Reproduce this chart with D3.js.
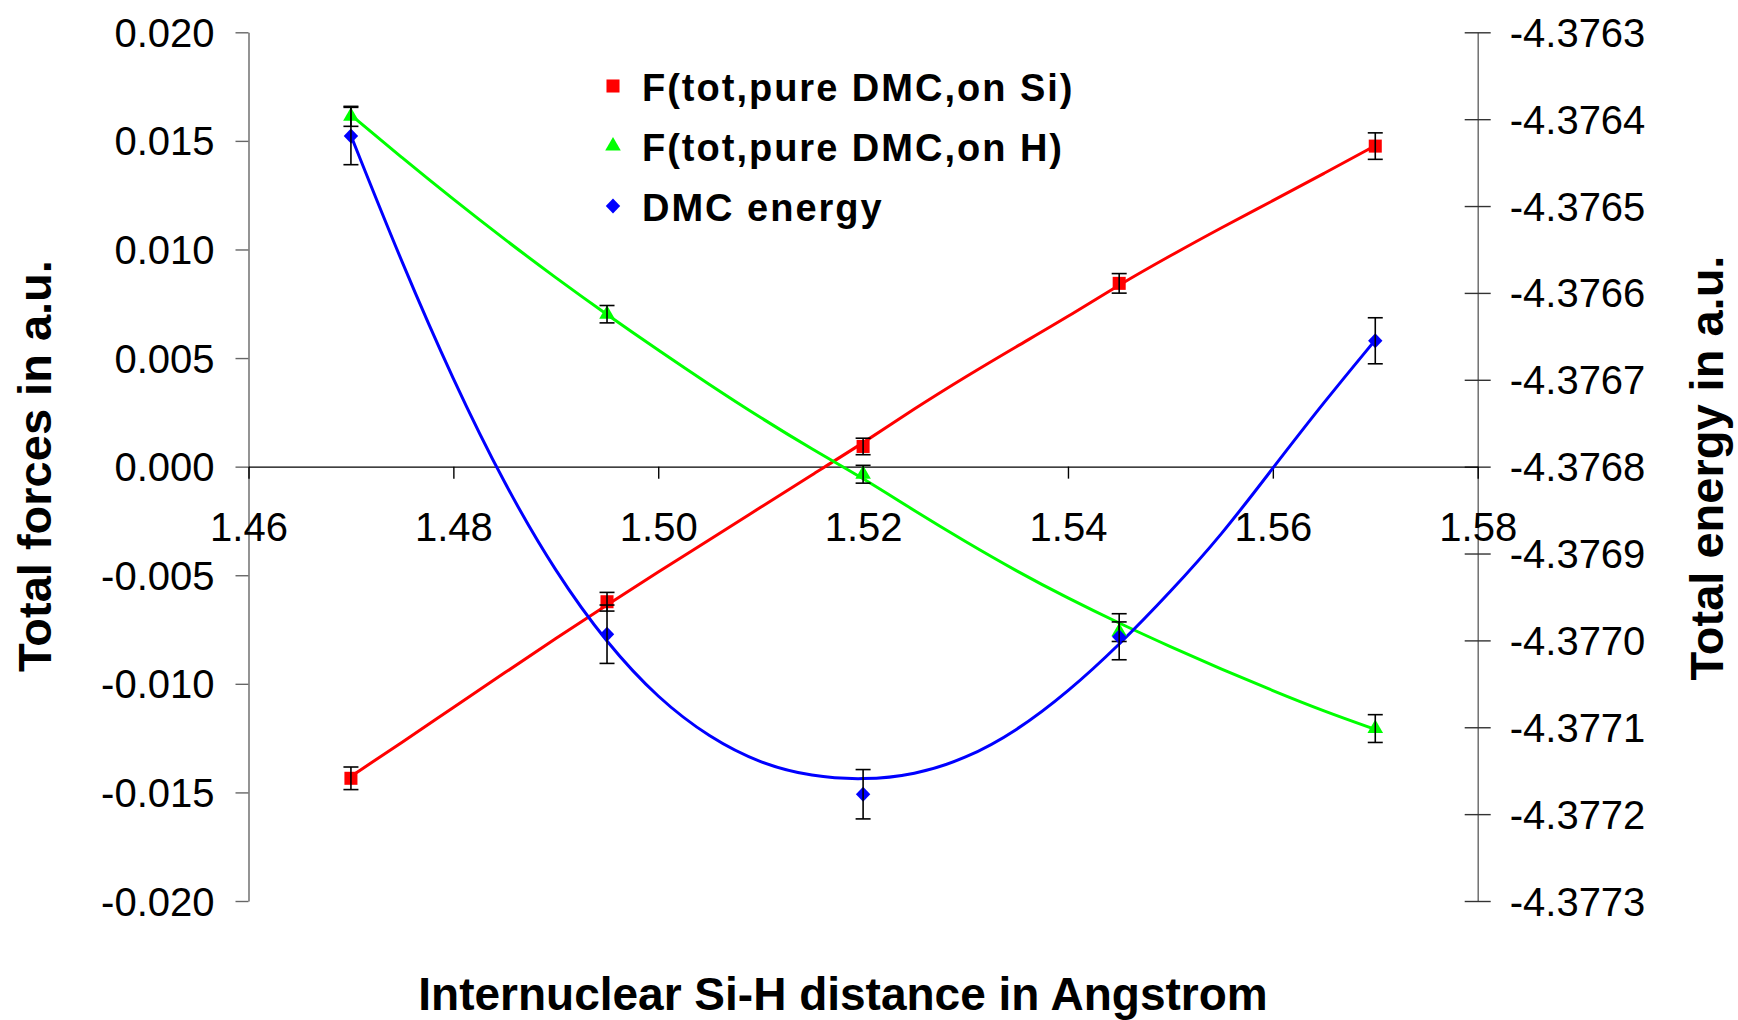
<!DOCTYPE html>
<html>
<head>
<meta charset="utf-8">
<script src="https://cdn.jsdelivr.net/npm/d3@7"></script>
<style>
  html, body { margin: 0; padding: 0; background: #fff; }
  svg { display: block; font-family: "Liberation Sans", Arial, Helvetica, sans-serif; }
</style>
</head>
<body>
<svg id="chart" width="1738" height="1020"></svg>
<script>
// ---------- data ----------
const distances = [1.47, 1.495, 1.52, 1.545, 1.57];

const forceSi    = [-0.01435, -0.00622, 0.00093, 0.00844, 0.01476];
const forceSiErr = [0.00052, 0.00043, 0.00038, 0.00045, 0.00061];

const forceH     = [0.01613, 0.00702, -0.00035, -0.0076, -0.01206];
const forceHErr  = [0.00046, 0.00040, 0.00041, 0.00045, 0.00064];

const energy     = [-4.3764194, -4.3769929, -4.3771771, -4.3769958, -4.3766551];
const energyErr  = [0.000033, 0.0000336, 0.0000284, 0.0000265, 0.0000265];

// smoothed trend curves
const fitX  = [1.470, 1.475, 1.480, 1.485, 1.490, 1.495, 1.500, 1.505, 1.510, 1.515, 1.520,
               1.525, 1.530, 1.535, 1.540, 1.545, 1.550, 1.555, 1.560, 1.565, 1.570];
const fitSi = [-0.014259, -0.012693, -0.011082, -0.009494, -0.007914, -0.006358, -0.004843,
               -0.003366, -0.001869, -0.000378, 0.001087, 0.002670, 0.004139, 0.005539,
               0.006906, 0.008379, 0.009715, 0.011013, 0.012242, 0.013504, 0.014783];
const fitH  = [0.016197, 0.014217, 0.012307, 0.010465, 0.008692, 0.006998, 0.005364,
               0.003775, 0.002247, 0.000806, -0.000534, -0.002030, -0.003458, -0.004816,
               -0.006059, -0.007210, -0.008292, -0.009328, -0.010318, -0.011262, -0.012095];
const fitE  = [-4.3764190, -4.3765664, -4.3767011, -4.3768208, -4.3769221, -4.3770038,
               -4.3770671, -4.3771120, -4.3771420, -4.3771569, -4.3771607, -4.3771550,
               -4.3771365, -4.3771043, -4.3770594, -4.3770053, -4.3769443, -4.3768787,
               -4.3768016, -4.3767256, -4.3766542];

const xTicks      = [1.46, 1.48, 1.50, 1.52, 1.54, 1.56, 1.58];
const leftTicks   = [-0.020, -0.015, -0.010, -0.005, 0.000, 0.005, 0.010, 0.015, 0.020];
const rightTicks  = [-4.3773, -4.3772, -4.3771, -4.3770, -4.3769, -4.3768, -4.3767,
                     -4.3766, -4.3765, -4.3764, -4.3763];

const seriesNames  = ["F(tot,pure DMC,on Si)", "F(tot,pure DMC,on H)", "DMC energy"];
const seriesColors = ["#ff0000", "#00ff00", "#0000ff"];

const xTitle = "Internuclear Si-H distance in Angstrom";
const yLeftTitle = "Total forces in a.u.";
const yRightTitle = "Total energy in a.u.";

// ---------- layout ----------
const svg = d3.select("#chart");
const plotLeft = 248.5, plotRight = 1477.7, plotTop = 32.3, plotBottom = 901;

const x  = d3.scaleLinear().domain([1.46, 1.58]).range([plotLeft, plotRight]);
const yF = d3.scaleLinear().domain([-0.02, 0.02]).range([plotBottom, plotTop]);
const yE = d3.scaleLinear().domain([-4.3773, -4.3763]).range([plotBottom, plotTop]);

const axisGray = "#666";

// left axis
const gL = svg.append("g").attr("transform", `translate(${plotLeft},0)`)
  .call(d3.axisLeft(yF).tickValues(leftTicks).tickSize(13).tickSizeOuter(0).tickPadding(21)
        .tickFormat(d => d3.format(".3f")(d).replace("−", "-")));
gL.select(".domain").attr("stroke", axisGray).attr("stroke-width", 1.4);
gL.selectAll(".tick line").attr("stroke", axisGray).attr("stroke-width", 1.4);
gL.selectAll(".tick text").attr("font-size", 40).attr("fill", "#000")
  .attr("dy", null).attr("dominant-baseline", "central");

// right axis
const gR = svg.append("g").attr("transform", `translate(${plotRight},0)`)
  .call(d3.axisRight(yE).tickValues(rightTicks).tickSize(13).tickSizeOuter(0).tickPadding(19)
        .tickFormat(d => d3.format(".4f")(d).replace("−", "-")));
gR.select(".domain").attr("stroke", axisGray).attr("stroke-width", 1.4);
gR.selectAll(".tick line").attr("stroke", "#333").attr("stroke-width", 1.4).attr("x1", -13);
gR.selectAll(".tick text").attr("font-size", 40).attr("fill", "#000")
  .attr("dy", null).attr("dominant-baseline", "central");

// x axis at zero
const gX = svg.append("g").attr("transform", `translate(0,${yF(0)})`)
  .call(d3.axisBottom(x).tickValues(xTicks).tickSize(12).tickSizeOuter(0).tickPadding(34)
        .tickFormat(d3.format(".2f")));
gX.select(".domain").attr("stroke", "#000").attr("stroke-width", 1.4);
gX.selectAll(".tick line").attr("stroke", "#000").attr("stroke-width", 1.4);
gX.selectAll(".tick text").attr("font-size", 40).attr("fill", "#000").attr("dy", "0.71em")
  .attr("y", 46);

// ---------- curves ----------
const lineF = d3.line().x((d, i) => x(fitX[i])).y(d => yF(d)).curve(d3.curveBasis);
const lineE = d3.line().x((d, i) => x(fitX[i])).y(d => yE(d)).curve(d3.curveBasis);

const plotG = svg.append("g");
plotG.append("path").attr("d", lineF(fitSi)).attr("fill", "none")
  .attr("stroke", seriesColors[0]).attr("stroke-width", 3);
plotG.append("path").attr("d", lineF(fitH)).attr("fill", "none")
  .attr("stroke", seriesColors[1]).attr("stroke-width", 3);
plotG.append("path").attr("d", lineE(fitE)).attr("fill", "none")
  .attr("stroke", seriesColors[2]).attr("stroke-width", 3);

// ---------- markers ----------
const sq  = d3.symbol().type(d3.symbolSquare).size(170)();
const tri = d3.symbol().type(d3.symbolTriangle).size(105)();
const dia = "M0,-7.5L7.2,0L0,7.5L-7.2,0Z";

function drawSeries(vals, errs, yScale, path, color) {
  const g = plotG.append("g");
  g.selectAll("path.m").data(vals).join("path").attr("class", "m")
    .attr("d", path)
    .attr("transform", (d, i) => `translate(${x(distances[i])},${yScale(d)})`)
    .attr("fill", color);
  const eg = g.selectAll("g.err").data(vals).join("g").attr("class", "err")
    .attr("stroke", "#000").attr("stroke-width", 1.6);
  eg.append("line")
    .attr("x1", (d, i) => x(distances[i])).attr("x2", (d, i) => x(distances[i]))
    .attr("y1", (d, i) => yScale(d + errs[i])).attr("y2", (d, i) => yScale(d - errs[i]));
  eg.append("line")
    .attr("x1", (d, i) => x(distances[i]) - 7.5).attr("x2", (d, i) => x(distances[i]) + 7.5)
    .attr("y1", (d, i) => yScale(d + errs[i])).attr("y2", (d, i) => yScale(d + errs[i]));
  eg.append("line")
    .attr("x1", (d, i) => x(distances[i]) - 7.5).attr("x2", (d, i) => x(distances[i]) + 7.5)
    .attr("y1", (d, i) => yScale(d - errs[i])).attr("y2", (d, i) => yScale(d - errs[i]));
}
drawSeries(forceSi, forceSiErr, yF, sq, seriesColors[0]);
drawSeries(forceH, forceHErr, yF, tri, seriesColors[1]);
drawSeries(energy, energyErr, yE, dia, seriesColors[2]);

// ---------- legend ----------
const legendPaths = [sq, tri, dia];
const leg = svg.append("g");
seriesNames.forEach((name, i) => {
  const cy = 86 + i * 60;
  leg.append("path").attr("d", legendPaths[i])
    .attr("transform", `translate(613,${cy})`).attr("fill", seriesColors[i]);
  leg.append("text").attr("x", 642).attr("y", cy + 15)
    .attr("font-size", 38).attr("font-weight", "bold").attr("letter-spacing", 2)
    .attr("fill", "#000").text(name);
});

// ---------- titles ----------
svg.append("text").attr("x", 843).attr("y", 1010).attr("text-anchor", "middle")
  .attr("font-size", 46).attr("font-weight", "bold").text(xTitle);
svg.append("text").attr("transform", "translate(51,466) rotate(-90)")
  .attr("text-anchor", "middle").attr("font-size", 47).attr("font-weight", "bold")
  .text(yLeftTitle);
svg.append("text").attr("transform", "translate(1723,468) rotate(-90)")
  .attr("text-anchor", "middle").attr("font-size", 47).attr("font-weight", "bold")
  .text(yRightTitle);
</script>
</body>
</html>
